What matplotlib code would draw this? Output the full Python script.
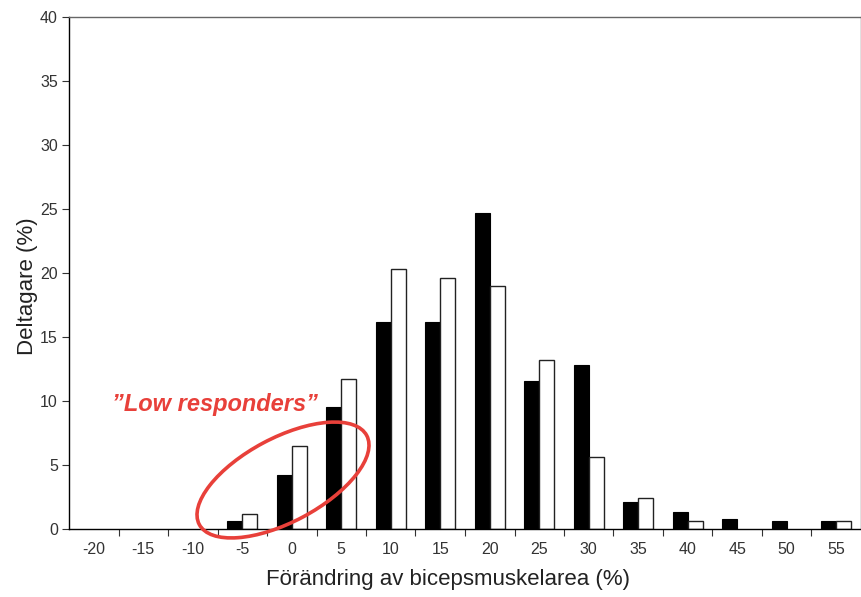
import matplotlib
matplotlib.use("Agg")
import matplotlib.pyplot as plt
from matplotlib.patches import Ellipse
import numpy as np

plt.rcParams['font.family'] = ['Liberation Sans', 'DejaVu Sans']

categories = [-20, -15, -10, -5, 0, 5, 10, 15, 20, 25, 30, 35, 40, 45, 50, 55]
black_vals = [0, 0, 0, 0.6, 4.2, 9.5, 16.2, 16.2, 24.7, 11.6, 12.8, 2.1, 1.3, 0.8, 0.6, 0.6]
white_vals = [0, 0, 0, 1.2, 6.5, 11.7, 20.3, 19.6, 19.0, 13.2, 5.6, 2.4, 0.6, 0, 0, 0.6]
y_ticks = [0, 5, 10, 15, 20, 25, 30, 35, 40]

W, H = 862, 597
fig = plt.figure(figsize=(W / 100, H / 100), dpi=100)
ax = fig.add_axes([69 / W, 1 - 529 / H, (861 - 69) / W, (529 - 17) / H])

x = np.arange(len(categories))
bw = 0.3
bx = [xi - bw / 2 for xi, v in zip(x, black_vals) if v > 0]
bv = [v for v in black_vals if v > 0]
wx = [xi + bw / 2 for xi, v in zip(x, white_vals) if v > 0]
wv = [v for v in white_vals if v > 0]
ax.bar(bx, bv, width=bw, color='black', edgecolor='black', linewidth=0.8, zorder=2)
ax.bar(wx, wv, width=bw, color='white', edgecolor='#222222', linewidth=1.0, zorder=2)

ax.set_xlim(-0.5, len(categories) - 0.5)
ax.set_ylim(0, 40)
ax.set_yticks(y_ticks)
ax.set_yticklabels([str(v) for v in y_ticks], fontsize=11.5, color='#333333')
ax.set_xticks(x)
ax.set_xticklabels([str(c) for c in categories], fontsize=11.5, color='#333333')
ax.set_xticks(np.arange(0.5, len(categories) - 1, 1.0), minor=True)
ax.tick_params(axis='x', which='major', length=0, pad=9)
ax.tick_params(axis='x', which='minor', length=5, width=0.8, direction='out', color='#333333')
ax.tick_params(axis='y', length=5, width=0.8, direction='out', color='#333333', pad=3)

for s in ['left', 'bottom']:
    ax.spines[s].set_color('black')
    ax.spines[s].set_linewidth(1.0)
for s in ['top', 'right']:
    ax.spines[s].set_color('#666666')
    ax.spines[s].set_linewidth(1.0)

ax.set_ylabel('Deltagare (%)', fontsize=16, color='#222222', va='center')
ax.yaxis.set_label_coords((27 - 69) / 792, (529 - 286) / 512)
ax.set_xlabel('Förändring av bicepsmuskelarea (%)', fontsize=16, color='#222222', va='center')
ax.xaxis.set_label_coords((448.5 - 69) / 792, (529 - 580) / 512)

# annotation
ax.text(215 / W, 1 - 404 / H, '\u201dLow responders\u201d', transform=fig.transFigure,
        ha='center', va='center', fontsize=17, fontweight='bold', fontstyle='italic',
        color='#e8403a')
ell = Ellipse((283 / 100, (H - 480) / 100), width=2 * 94.8 / 100, height=2 * 42 / 100,
              angle=28, transform=fig.dpi_scale_trans, fill=False,
              edgecolor='#e8403a', linewidth=2.6, zorder=5, clip_on=False)
fig.add_artist(ell)

fig.savefig('out.png', dpi=100)
